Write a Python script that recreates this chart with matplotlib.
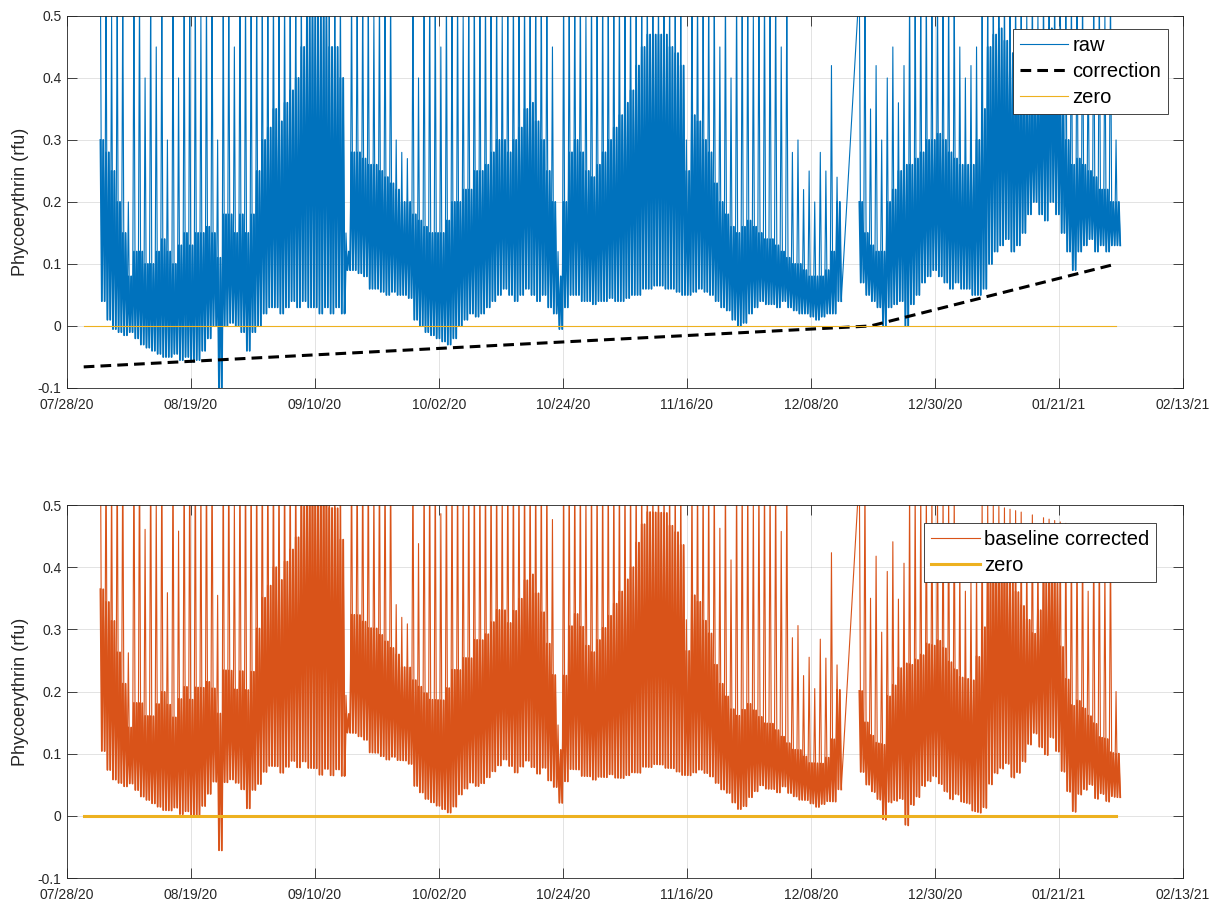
import matplotlib
matplotlib.use('Agg')
import matplotlib.pyplot as plt
import matplotlib.dates as mdates
from matplotlib.ticker import FuncFormatter
import numpy as np
import pandas as pd

plt.rcParams['font.family'] = ['Liberation Sans', 'DejaVu Sans']

# two deployments, one row of values per day (rfu)
seg1_start, seg1_end = '2020-08-03', '2020-12-13'
seg2_start, seg2_end = '2020-12-17', '2021-02-01'

# daily low of the raw signal
raw_low = [
    0.04, 0.01, -0.005, -0.01, -0.015, -0.01, -0.02, -0.03, -0.035, -0.04,
    -0.045, -0.05, -0.05, -0.045, -0.055, -0.05, -0.058, -0.055, -0.04, -0.02,
    0.0, -0.11, 0.0, 0.005, 0.0, -0.01, -0.04, -0.01, 0.0, 0.02,
    0.03, 0.03, 0.02, 0.03, 0.04, 0.03, 0.04, 0.03, 0.03, 0.02,
    0.03, 0.02, 0.03, 0.02, 0.09, 0.09, 0.085, 0.08, 0.06, 0.06,
    0.055, 0.05, 0.055, 0.05, 0.05, 0.045, 0.01, 0.0, -0.01, -0.015,
    -0.02, -0.025, -0.03, -0.02, 0.0, 0.01, 0.02, 0.015, 0.02, 0.03,
    0.04, 0.05, 0.06, 0.05, 0.04, 0.05, 0.06, 0.05, 0.04, 0.05,
    0.03, 0.02, -0.005, 0.03, 0.05, 0.05, 0.04, 0.04, 0.035, 0.04,
    0.04, 0.045, 0.04, 0.04, 0.045, 0.05, 0.05, 0.06, 0.06, 0.065,
    0.065, 0.06, 0.06, 0.055, 0.05, 0.05, 0.055, 0.06, 0.055, 0.05,
    0.04, 0.03, 0.025, 0.01, 0.0, 0.005, 0.02, 0.03, 0.04, 0.035,
    0.035, 0.03, 0.04, 0.03, 0.025, 0.02, 0.02, 0.015, 0.01, 0.015, 0.02, 0.02, 0.04,
    # second deployment
    0.07, 0.05, 0.04, 0.03, 0.0, 0.03, 0.035, 0.04, 0.0, 0.035,
    0.05, 0.07, 0.08, 0.09, 0.08, 0.07, 0.06, 0.07, 0.06, 0.06,
    0.05, 0.05, 0.06, 0.1, 0.12, 0.13, 0.14, 0.12, 0.13, 0.15,
    0.18, 0.2, 0.18, 0.17, 0.2, 0.18, 0.15, 0.12, 0.09, 0.12,
    0.13, 0.14, 0.12, 0.13, 0.12, 0.13, 0.13,
]

# top of the dense part of the daily cycle
raw_band = [
    0.3, 0.28, 0.25, 0.2, 0.15, 0.08, 0.12, 0.12, 0.1, 0.1,
    0.12, 0.14, 0.12, 0.1, 0.13, 0.15, 0.13, 0.15, 0.15, 0.16,
    0.15, 0.11, 0.18, 0.18, 0.15, 0.18, 0.15, 0.18, 0.25, 0.3,
    0.32, 0.35, 0.33, 0.36, 0.38, 0.4, 0.45, 0.5, 0.5, 0.5,
    0.5, 0.45, 0.45, 0.4, 0.12, 0.28, 0.28, 0.27, 0.26, 0.26,
    0.25, 0.24, 0.23, 0.22, 0.2, 0.2, 0.18, 0.17, 0.16, 0.15,
    0.15, 0.15, 0.17, 0.2, 0.2, 0.22, 0.22, 0.25, 0.25, 0.26,
    0.28, 0.3, 0.3, 0.28, 0.3, 0.32, 0.35, 0.36, 0.33, 0.3,
    0.25, 0.2, 0.08, 0.2, 0.28, 0.3, 0.28, 0.25, 0.24, 0.26,
    0.28, 0.3, 0.32, 0.34, 0.36, 0.38, 0.42, 0.45, 0.47, 0.47,
    0.47, 0.47, 0.45, 0.44, 0.42, 0.25, 0.34, 0.33, 0.3, 0.28,
    0.23, 0.2, 0.18, 0.16, 0.15, 0.16, 0.17, 0.16, 0.15, 0.14,
    0.14, 0.13, 0.12, 0.11, 0.1, 0.1, 0.09, 0.08, 0.08, 0.08, 0.09, 0.12, 0.2,
    # second deployment
    0.2, 0.15, 0.13, 0.12, 0.12, 0.2, 0.22, 0.25, 0.26, 0.26,
    0.27, 0.28, 0.3, 0.3, 0.31, 0.3, 0.28, 0.27, 0.26, 0.26,
    0.26, 0.3, 0.35, 0.45, 0.47, 0.48, 0.46, 0.44, 0.42, 0.4,
    0.38, 0.36, 0.4, 0.45, 0.48, 0.45, 0.35, 0.3, 0.26, 0.27,
    0.26, 0.25, 0.24, 0.22, 0.22, 0.2, 0.2,
]

# daily spike maximum (many go off the top of the axis)
raw_peak = [
    0.55, 0.55, 0.5, 0.55, 0.55, 0.2, 0.55, 0.55, 0.4, 0.55,
    0.45, 0.55, 0.3, 0.55, 0.4, 0.55, 0.55, 0.55, 0.5, 0.55,
    0.55, 0.3, 0.55, 0.55, 0.45, 0.55, 0.55, 0.55, 0.55, 0.55,
    0.55, 0.55, 0.55, 0.55, 0.55, 0.55, 0.55, 0.55, 0.55, 0.55,
    0.55, 0.55, 0.55, 0.55, 0.15, 0.55, 0.55, 0.55, 0.55, 0.5,
    0.55, 0.55, 0.55, 0.3, 0.28, 0.27, 0.55, 0.4, 0.55, 0.55,
    0.55, 0.45, 0.55, 0.55, 0.55, 0.5, 0.55, 0.55, 0.55, 0.55,
    0.55, 0.55, 0.5, 0.55, 0.55, 0.55, 0.55, 0.55, 0.55, 0.55,
    0.55, 0.45, 0.12, 0.55, 0.55, 0.55, 0.55, 0.5, 0.55, 0.55,
    0.55, 0.55, 0.55, 0.55, 0.55, 0.55, 0.55, 0.55, 0.55, 0.55,
    0.55, 0.55, 0.55, 0.55, 0.55, 0.3, 0.55, 0.55, 0.55, 0.55,
    0.55, 0.45, 0.55, 0.4, 0.55, 0.55, 0.55, 0.5, 0.55, 0.55,
    0.55, 0.55, 0.45, 0.55, 0.28, 0.3, 0.22, 0.25, 0.2, 0.28, 0.25, 0.42, 0.24,
    # second deployment
    0.55, 0.55, 0.35, 0.42, 0.3, 0.4, 0.45, 0.36, 0.42, 0.55,
    0.55, 0.55, 0.55, 0.55, 0.55, 0.55, 0.55, 0.55, 0.45, 0.4,
    0.42, 0.45, 0.55, 0.55, 0.55, 0.55, 0.55, 0.55, 0.55, 0.55,
    0.5, 0.55, 0.5, 0.55, 0.55, 0.55, 0.55, 0.55, 0.55, 0.55,
    0.55, 0.45, 0.55, 0.55, 0.5, 0.55, 0.3,
]

# baseline drift correction (piecewise linear)
corr_dates = ['2020-07-31', '2020-12-19', '2021-02-01']
corr_vals = [-0.066, 0.0, 0.1]
zero_dates = ['2020-07-31', '2021-02-01']

xlim_dates = ['2020-07-28', '2021-02-13']
yticks = [-0.1, 0, 0.1, 0.2, 0.3, 0.4, 0.5]

c_raw = '#0072BD'
c_cor = '#D95319'
c_zero = '#EDB120'
c_ax = '#262626'

# each day drawn as peak -> low -> band -> low, 6 h apart
d1 = pd.date_range(seg1_start, seg1_end)
d2 = pd.date_range(seg2_start, seg2_end)
days = d1.append(d2)
n1 = 4 * len(d1)
steps = pd.to_timedelta([0, 6, 12, 18], unit='h')
t = mdates.date2num([d + s for d in days for s in steps])
lo = np.asarray(raw_low)
bd = np.asarray(raw_band)
raw = np.column_stack([raw_peak, lo, bd, lo]).ravel()
# heavier low..band body: same days with the spike sample swapped for the band value
body = np.column_stack([bd, lo, bd, lo]).ravel()

tc = mdates.date2num(pd.to_datetime(corr_dates))
tz = mdates.date2num(pd.to_datetime(zero_dates))
baseline = np.interp(t, tc, corr_vals)
corrected = raw - baseline
body_cor = body - baseline

fig = plt.figure(figsize=(12.22, 9.01), dpi=100)
ax1 = fig.add_axes([0.0548, 0.5694, 0.9133, 0.4129])
ax2 = fig.add_axes([0.0548, 0.0255, 0.9133, 0.414])

for sl in (slice(0, n1), slice(n1, None)):
    ax1.plot(t[sl], body[sl], color=c_raw, lw=1.3)
    ax2.plot(t[sl], body_cor[sl], color=c_cor, lw=1.3)

ax1.plot(t, raw, color=c_raw, lw=0.8, label='raw')
ax1.plot(tc, corr_vals, color='k', lw=2.2, dashes=(3.5, 2), label='correction')
ax1.plot(tz, [0, 0], color=c_zero, lw=0.8, label='zero')

ax2.plot(t, corrected, color=c_cor, lw=0.8, label='baseline corrected')
ax2.plot(tz, [0, 0], color=c_zero, lw=2.2, label='zero')

x0, x1 = mdates.date2num(pd.to_datetime(xlim_dates))
for ax in (ax1, ax2):
    ax.set_xlim(x0, x1)
    ax.set_ylim(-0.1, 0.5)
    ax.set_xticks(np.linspace(x0, x1, 10))
    ax.xaxis.set_major_formatter(mdates.DateFormatter('%m/%d/%y'))
    ax.set_yticks(yticks)
    ax.yaxis.set_major_formatter(FuncFormatter(lambda v, p: f'{v:g}'))
    ax.tick_params(direction='in', top=True, right=True, length=7, width=0.6,
                   color=c_ax, labelsize=10, labelcolor=c_ax)
    ax.tick_params(axis='x', pad=7)
    ax.tick_params(axis='y', pad=4)
    ax.set_axisbelow(True)
    ax.grid(True, color=c_ax, alpha=0.15, lw=0.6)
    ax.set_ylabel('Phycoerythrin (rfu)', fontsize=13, color=c_ax, labelpad=6)
    for s in ax.spines.values():
        s.set_color(c_ax)
        s.set_linewidth(0.6)

leg_kw = dict(fontsize=14.5, fancybox=False, framealpha=1, edgecolor=c_ax,
              borderaxespad=0, borderpad=0.35, labelspacing=0.35,
              handlelength=2.4, handletextpad=0.2)
l1 = ax1.legend(loc='upper right', bbox_to_anchor=(0.9866, 0.965), **leg_kw)
l2 = ax2.legend(loc='upper right', bbox_to_anchor=(0.9758, 0.952), **leg_kw)
for lg in (l1, l2):
    lg.get_frame().set_linewidth(0.6)

fig.savefig('out.png', dpi=100)
